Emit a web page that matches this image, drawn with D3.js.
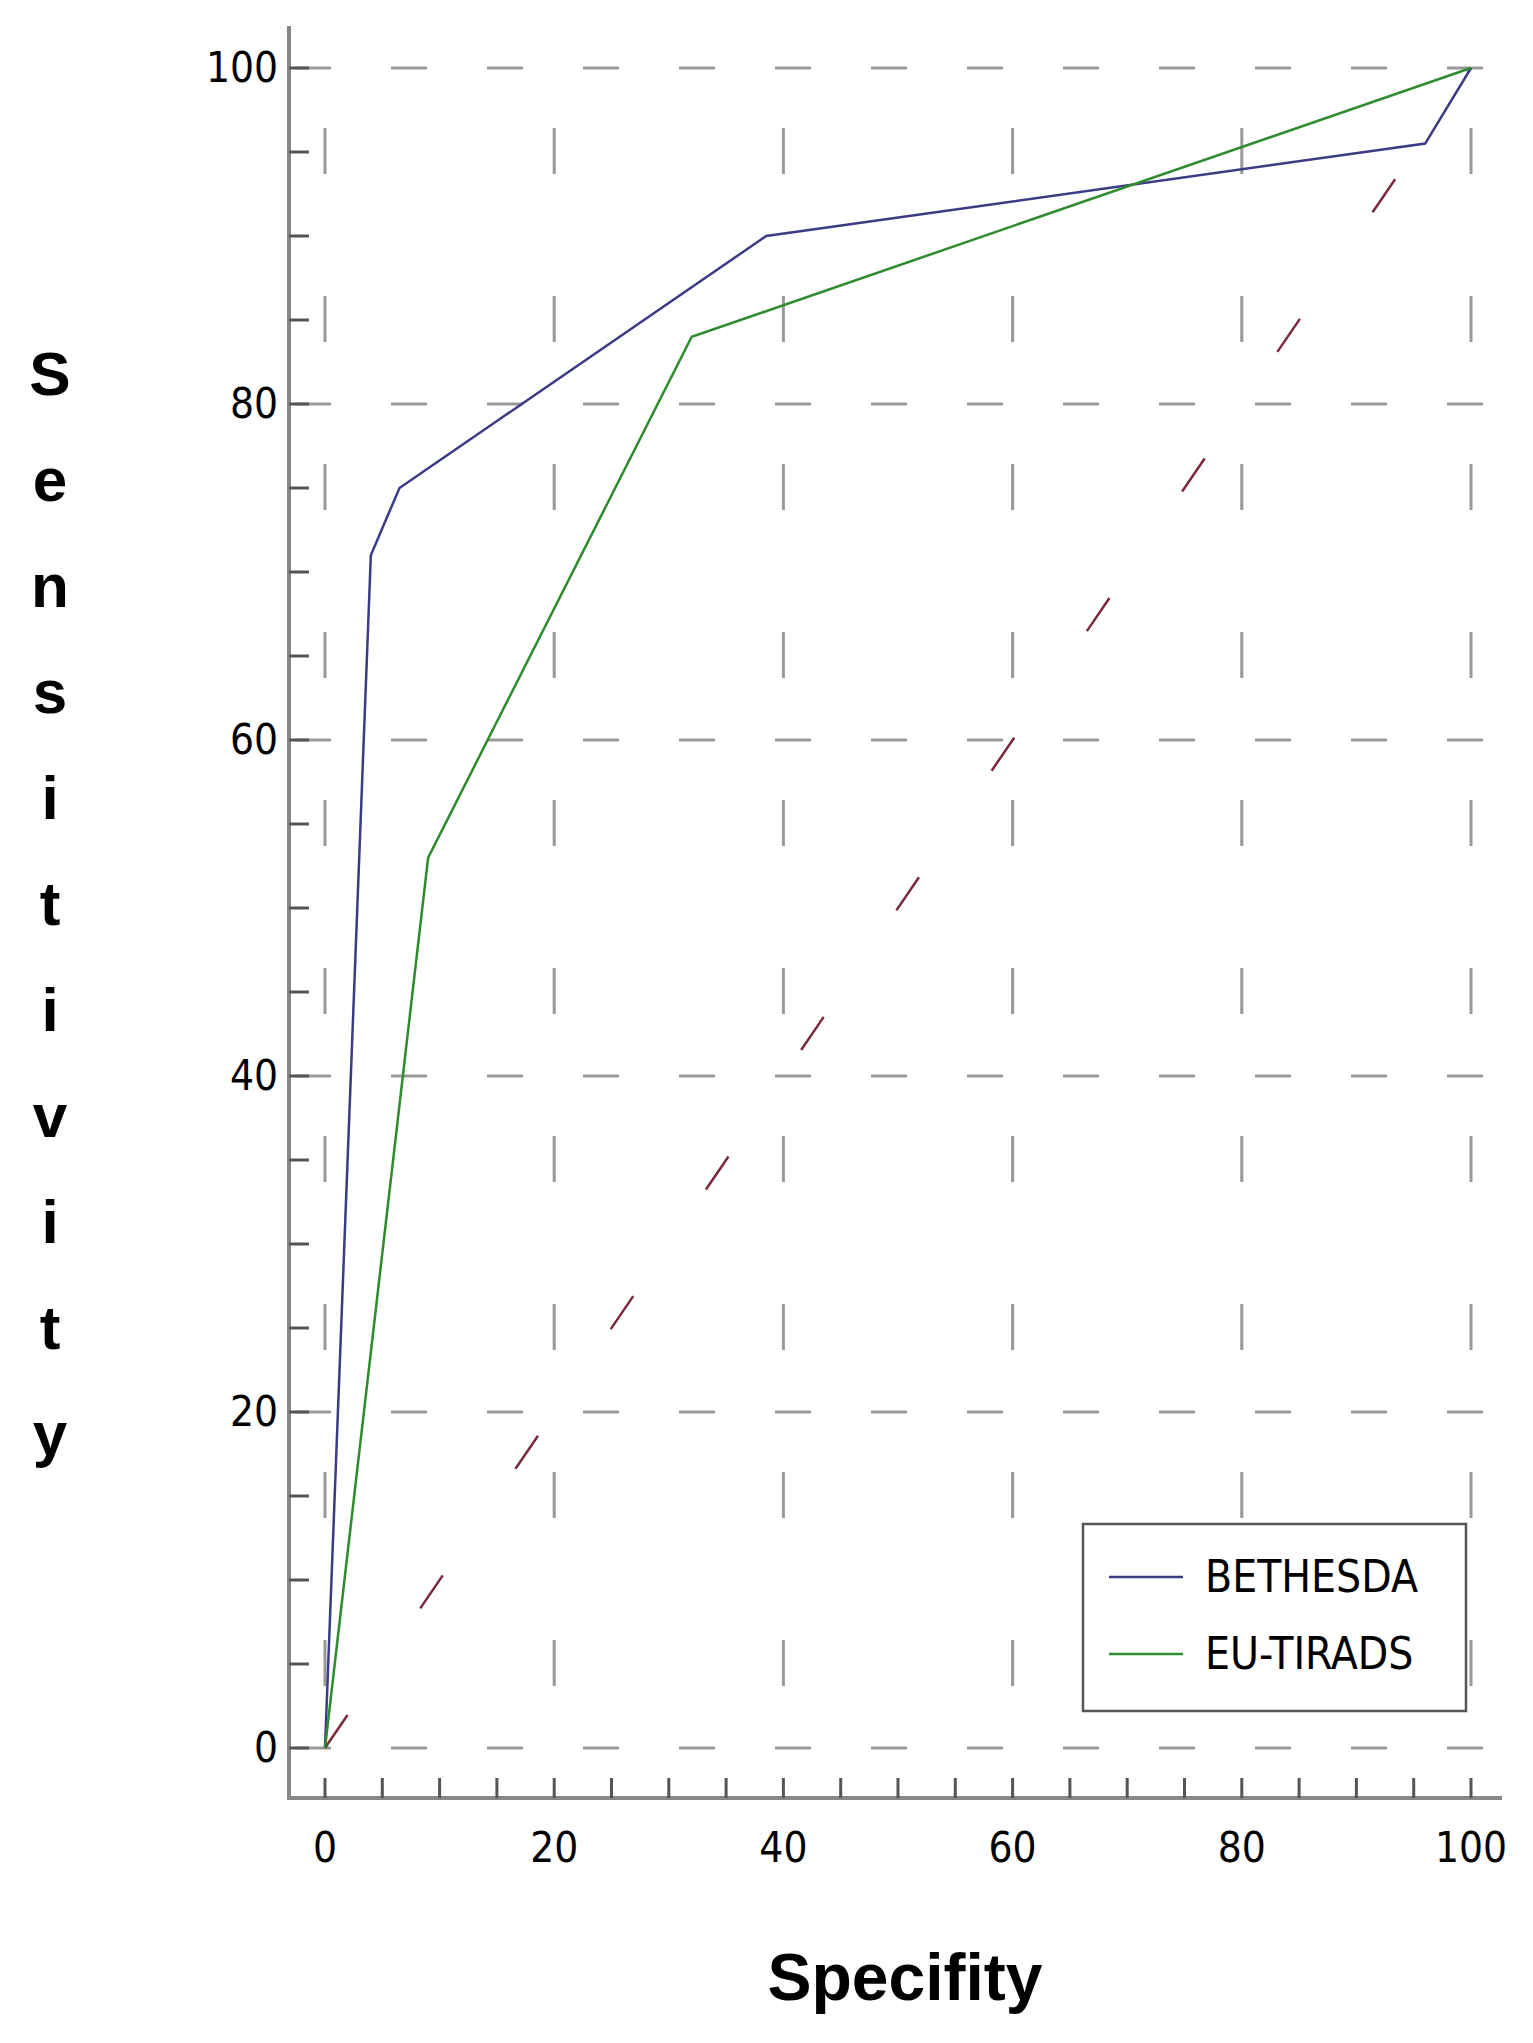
<!DOCTYPE html>
<html><head><meta charset="utf-8">
<script src="https://cdn.jsdelivr.net/npm/d3@7"></script>
<style>body{margin:0;background:#fff}</style>
</head><body>
<svg id="c" width="1533" height="2043"></svg>
<script>
const bethX = [0, 4, 6.5, 38.5, 96, 100];
const bethY = [0, 71, 75, 90, 95.5, 100];
const euX = [0, 9, 32, 100];
const euY = [0, 53, 84, 100];
const majorTicks = [0, 20, 40, 60, 80, 100];
const seriesNames = ["BETHESDA", "EU-TIRADS"];
const seriesColors = ["#3c3c86", "#2e8b2e"];

const svg = d3.select("#c");
const x = d3.scaleLinear().domain([0, 100]).range([325, 1471]);
const y = d3.scaleLinear().domain([0, 100]).range([1748, 68]);
const minor = d3.range(0, 101, 5);

// grid
const g = svg.append("g").attr("stroke", "#999").attr("stroke-width", 3);
majorTicks.forEach(t => {
  g.append("line").attr("x1", x(0) - 30).attr("x2", x(100) + 30).attr("y1", y(t)).attr("y2", y(t))
    .attr("stroke-dasharray", "36,60");
  g.append("line").attr("x1", x(t)).attr("x2", x(t)).attr("y1", y(100) + 60).attr("y2", y(0) + 60)
    .attr("stroke-dasharray", "46,122");
});

// axes
const ax = svg.append("g").attr("stroke", "#888").attr("stroke-width", 4);
ax.append("line").attr("x1", 289).attr("x2", 289).attr("y1", 26).attr("y2", 1800);
ax.append("line").attr("x1", 287).attr("x2", 1502).attr("y1", 1798).attr("y2", 1798);
minor.forEach(t => {
  svg.append("line").attr("x1", 289).attr("x2", 309).attr("y1", y(t)).attr("y2", y(t))
    .attr("stroke", "#555").attr("stroke-width", 3);
  svg.append("line").attr("x1", x(t)).attr("x2", x(t)).attr("y1", 1798).attr("y2", 1778)
    .attr("stroke", "#555").attr("stroke-width", 3);
});
const tf = "'Liberation Sans Narrow','DejaVu Sans Condensed',sans-serif";
majorTicks.forEach(t => {
  svg.append("text").attr("x", 278).attr("y", y(t) + 14).attr("text-anchor", "end")
    .attr("font-family", tf).attr("font-size", 42).text(t);
  svg.append("text").attr("x", x(t)).attr("y", 1862).attr("text-anchor", "middle")
    .attr("font-family", tf).attr("font-size", 42).text(t);
});

// diagonal reference
svg.append("line").attr("x1", x(0)).attr("y1", y(0)).attr("x2", x(100)).attr("y2", y(100))
  .attr("stroke", "#7a2a3a").attr("stroke-width", 2.5).attr("stroke-dasharray", "40,129");

// curves
const line = d3.line().x(d => x(d[0])).y(d => y(d[1]));
const series = [d3.zip(bethX, bethY), d3.zip(euX, euY)];
series.forEach((s, i) => {
  svg.append("path").datum(s).attr("d", line).attr("fill", "none")
    .attr("stroke", seriesColors[i]).attr("stroke-width", 2.5);
});

// legend
svg.append("rect").attr("x", 1083).attr("y", 1524).attr("width", 383).attr("height", 187)
  .attr("fill", "#fff").attr("stroke", "#555").attr("stroke-width", 2.5);
seriesNames.forEach((n, i) => {
  const yy = 1577 + i * 77;
  svg.append("line").attr("x1", 1109).attr("x2", 1183).attr("y1", yy).attr("y2", yy)
    .attr("stroke", seriesColors[i]).attr("stroke-width", 2.5);
  svg.append("text").attr("x", 1205).attr("y", yy + 15).attr("font-family", tf)
    .attr("font-size", 44).text(n);
});

// titles
svg.append("text").attr("x", 905).attr("y", 2000).attr("text-anchor", "middle")
  .attr("font-family", "'Liberation Sans',Arial,sans-serif").attr("font-weight", "bold")
  .attr("font-size", 66).text("Specifity");
"Sensitivity".split("").forEach((c, i) => {
  svg.append("text").attr("x", 50).attr("y", 395 + i * 106).attr("text-anchor", "middle")
    .attr("font-family", "'Liberation Sans',Arial,sans-serif").attr("font-weight", "bold")
    .attr("font-size", 62).text(c);
});
</script>
</body></html>
